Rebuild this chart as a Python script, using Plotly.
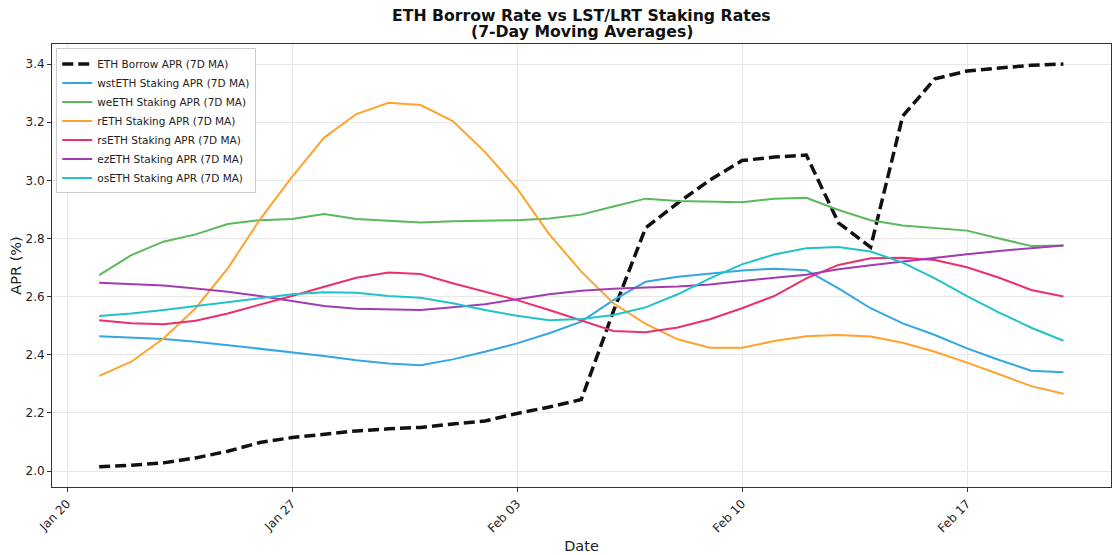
import pandas as pd
import plotly.graph_objects as go

dates = pd.date_range("2025-01-21", "2025-02-20", freq="D")

eth_borrow = [2.015, 2.020, 2.028, 2.045, 2.068, 2.098, 2.115, 2.128, 2.138, 2.145,
              2.150, 2.162, 2.172, 2.198, 2.220, 2.246, 2.550, 2.836, 2.922, 3.001,
              3.068, 3.080, 3.087, 2.854, 2.770, 3.221, 3.349, 3.376, 3.385, 3.396, 3.400]
wsteth = [2.464, 2.460, 2.454, 2.445, 2.433, 2.422, 2.409, 2.396, 2.381, 2.370,
          2.364, 2.384, 2.410, 2.439, 2.474, 2.514, 2.588, 2.651, 2.668, 2.680,
          2.690, 2.696, 2.691, 2.628, 2.560, 2.508, 2.468, 2.422, 2.382, 2.345, 2.340]
weeth = [2.674, 2.743, 2.789, 2.814, 2.850, 2.863, 2.867, 2.884, 2.867, 2.860,
         2.855, 2.859, 2.861, 2.863, 2.869, 2.882, 2.910, 2.937, 2.929, 2.926,
         2.925, 2.937, 2.940, 2.898, 2.863, 2.845, 2.837, 2.827, 2.800, 2.774, 2.776]
reth = [2.327, 2.376, 2.456, 2.560, 2.697, 2.865, 3.012, 3.147, 3.228, 3.267,
        3.259, 3.204, 3.098, 2.972, 2.815, 2.686, 2.577, 2.506, 2.453, 2.424,
        2.424, 2.447, 2.464, 2.468, 2.463, 2.441, 2.410, 2.373, 2.333, 2.292, 2.266]
rseth = [2.519, 2.508, 2.505, 2.517, 2.542, 2.571, 2.602, 2.634, 2.665, 2.683,
         2.678, 2.646, 2.617, 2.588, 2.554, 2.517, 2.482, 2.477, 2.494, 2.522,
         2.560, 2.602, 2.663, 2.709, 2.732, 2.734, 2.726, 2.701, 2.665, 2.623, 2.600]
ezeth = [2.648, 2.643, 2.638, 2.628, 2.617, 2.602, 2.585, 2.568, 2.558, 2.555,
         2.554, 2.563, 2.574, 2.591, 2.608, 2.620, 2.627, 2.631, 2.635, 2.642,
         2.654, 2.665, 2.675, 2.694, 2.708, 2.721, 2.735, 2.746, 2.757, 2.766, 2.776]
oseth = [2.533, 2.542, 2.554, 2.568, 2.582, 2.596, 2.608, 2.615, 2.613, 2.602,
         2.596, 2.577, 2.554, 2.534, 2.519, 2.523, 2.537, 2.563, 2.608, 2.663,
         2.711, 2.745, 2.766, 2.771, 2.755, 2.717, 2.663, 2.602, 2.545, 2.493, 2.448]

series = [
    ("wstETH Staking APR (7D MA)", wsteth, "#35A6E0"),
    ("weETH Staking APR (7D MA)", weeth, "#5CB85C"),
    ("rETH Staking APR (7D MA)", reth, "#FFA22E"),
    ("rsETH Staking APR (7D MA)", rseth, "#EC2F6D"),
    ("ezETH Staking APR (7D MA)", ezeth, "#A23CB2"),
    ("osETH Staking APR (7D MA)", oseth, "#1FC3C9"),
]

tick_vals = pd.to_datetime(["2025-01-20", "2025-01-27", "2025-02-03", "2025-02-10", "2025-02-17"])
tick_text = ["Jan 20", "Jan 27", "Feb 03", "Feb 10", "Feb 17"]
y_ticks = [2.0, 2.2, 2.4, 2.6, 2.8, 3.0, 3.2, 3.4]

title_lines = ["ETH Borrow Rate vs LST/LRT Staking Rates", "(7-Day Moving Averages)"]

fig = go.Figure()
fig.add_trace(go.Scatter(x=dates, y=eth_borrow, mode="lines", name="ETH Borrow APR (7D MA)",
                         line=dict(color="#111111", width=3.5, dash="11px,5px")))
for name, vals, col in series:
    fig.add_trace(go.Scatter(x=dates, y=vals, mode="lines", name=name,
                             line=dict(color=col, width=2)))

font = "DejaVu Sans"
fig.update_layout(
    width=1112, height=547,
    margin=dict(l=44, r=9, t=36, b=68),
    paper_bgcolor="white", plot_bgcolor="white",
    font=dict(family=font, size=12, color="#222222"),
    showlegend=True,
    legend=dict(x=0.004, y=0.99, xanchor="left", yanchor="top",
                bgcolor="rgba(255,255,255,0.9)", bordercolor="#cccccc", borderwidth=1,
                font=dict(family=font, size=10.5, color="#222222"),
                tracegroupgap=0, itemwidth=30),
    xaxis=dict(
        range=[pd.Timestamp("2025-01-19 12:47"), pd.Timestamp("2025-02-21 11:30")],
        tickvals=tick_vals, ticktext=tick_text, tickangle=-45,
        tickfont=dict(size=12),
        showgrid=True, gridcolor="#e8e8e8", gridwidth=1,
        showline=True, linecolor="#333333", linewidth=1, mirror=True,
        ticks="outside", ticklen=4, tickcolor="#333333",
        title=dict(text="Date", font=dict(size=14.5), standoff=6),
        zeroline=False, automargin=False,
    ),
    yaxis=dict(
        range=[1.945, 3.469],
        tickvals=y_ticks, ticktext=[f"{v:.1f}" for v in y_ticks],
        tickfont=dict(size=12),
        showgrid=True, gridcolor="#e8e8e8", gridwidth=1,
        showline=True, linecolor="#333333", linewidth=1, mirror=True,
        ticks="outside", ticklen=4, tickcolor="#333333",
        title=dict(text="APR (%)", font=dict(size=14.5), standoff=3),
        zeroline=False, automargin=False,
    ),
    annotations=[
        dict(text=f"<b>{title_lines[0]}</b>", xref="paper", yref="paper", x=0.5, y=1,
             yshift=17, xanchor="center", yanchor="bottom", showarrow=False,
             font=dict(family=font, size=15.7, color="#111111")),
        dict(text=f"<b>{title_lines[1]}</b>", xref="paper", yref="paper", x=0.5, y=1,
             yshift=1, xanchor="center", yanchor="bottom", showarrow=False,
             font=dict(family=font, size=15.7, color="#111111")),
    ],
)

fig.write_html("out.html")
